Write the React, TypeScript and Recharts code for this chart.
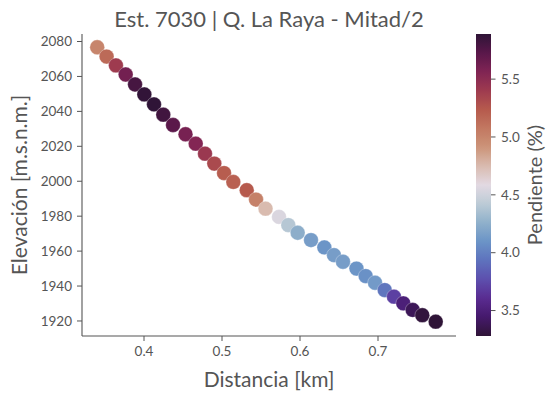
import React from "react";
import { ScatterChart, Scatter, XAxis, YAxis, Cell } from "recharts";

// Distance along the channel [km]
const distancia = [
  0.340, 0.352, 0.364, 0.3765, 0.3885, 0.4004, 0.4128, 0.4247, 0.4372, 0.4532,
  0.4663, 0.4782, 0.4901, 0.5026, 0.5145, 0.5317, 0.5436, 0.5558, 0.5731, 0.585,
  0.597, 0.6141, 0.6312, 0.6436, 0.6551, 0.6724, 0.6842, 0.6962, 0.7086, 0.7205,
  0.7324, 0.7445, 0.7568, 0.774,
];
// Elevation [m.s.n.m.]
const elevacion = [
  2076.7, 2071.4, 2066.3, 2061.1, 2055.4, 2049.7, 2044.0, 2038.1, 2032.2, 2026.9,
  2021.5, 2015.8, 2010.1, 2004.7, 1999.6, 1994.9, 1989.5, 1984.3, 1979.6, 1974.9,
  1970.5, 1966.3, 1962.1, 1957.7, 1953.9, 1950.0, 1945.7, 1941.9, 1937.7, 1933.9,
  1930.1, 1926.3, 1923.3, 1919.6,
];
// Slope [%]
const pendiente = [
  5.0, 5.15, 5.4, 5.62, 5.8, 5.88, 5.89, 5.82, 5.72, 5.6,
  5.55, 5.42, 5.32, 5.22, 5.2, 5.24, 5.02, 4.75, 4.55, 4.4,
  4.25, 4.15, 4.1, 4.15, 4.15, 4.1, 4.08, 4.13, 3.95, 3.7,
  3.5, 3.38, 3.3, 3.28,
];

const xTicks = [0.4, 0.5, 0.6, 0.7];
const yTicks = [1920, 1940, 1960, 1980, 2000, 2020, 2040, 2060, 2080];
const cbarTicks = [3.5, 4.0, 4.5, 5.0, 5.5];

const title = "Est. 7030 | Q. La Raya - Mitad/2";
const xLabel = "Distancia [km]";
const yLabel = "Elevación [m.s.n.m.]";
const cLabel = "Pendiente (%)";

// approximate twilight_shifted colormap
const cmapStops: [number, string][] = [
  [0.0, "#2f1437"],
  [0.0625, "#45196b"],
  [0.125, "#5a2c91"],
  [0.1875, "#5d4fae"],
  [0.25, "#5e72bd"],
  [0.3125, "#6b94c7"],
  [0.375, "#8fb0ca"],
  [0.4375, "#bccbd6"],
  [0.5, "#e2d9e2"],
  [0.5625, "#d9bbb0"],
  [0.625, "#cc9479"],
  [0.6875, "#c27861"],
  [0.75, "#b65a4d"],
  [0.8125, "#9e3b4f"],
  [0.875, "#802454"],
  [0.9375, "#59174a"],
  [1.0, "#2f1437"],
];

function hexToRgb(h: string) {
  return [parseInt(h.slice(1, 3), 16), parseInt(h.slice(3, 5), 16), parseInt(h.slice(5, 7), 16)];
}
function cmap(t: number) {
  t = Math.max(0, Math.min(1, t));
  for (let i = 0; i < cmapStops.length - 1; i++) {
    const [t0, c0] = cmapStops[i];
    const [t1, c1] = cmapStops[i + 1];
    if (t <= t1) {
      const f = (t - t0) / (t1 - t0);
      const a = hexToRgb(c0);
      const b = hexToRgb(c1);
      const r = a.map((v, k) => Math.round(v + (b[k] - v) * f));
      return `rgb(${r[0]},${r[1]},${r[2]})`;
    }
  }
  return cmapStops[cmapStops.length - 1][1];
}

const vmin = Math.min(...pendiente);
const vmax = Math.max(...pendiente);

const data = distancia.map((x, i) => ({
  x,
  y: elevacion[i],
  p: pendiente[i],
  color: cmap((pendiente[i] - vmin) / (vmax - vmin)),
}));

const W = 557;
const H = 399;
const plotTop = 34;
const plotBottom = 336;
const plotLeft = 82;
const plotRight = 456;
const textColor = "#555555";
const fontFamily = "Lato, 'Open Sans', sans-serif";

const cbX = 476;
const cbW = 15;

function Colorbar() {
  const h = plotBottom - plotTop;
  const yOf = (v: number) => plotBottom - ((v - vmin) / (vmax - vmin)) * h;
  const n = 60;
  return (
    <g>
      <defs>
        <linearGradient id="cbgrad" x1="0" y1="1" x2="0" y2="0">
          {Array.from({ length: n + 1 }, (_, i) => (
            <stop key={i} offset={i / n} stopColor={cmap(i / n)} />
          ))}
        </linearGradient>
      </defs>
      <rect x={cbX} y={plotTop} width={cbW} height={h} fill="url(#cbgrad)" />
      {cbarTicks.map((v) => (
        <g key={v}>
          <line x1={cbX + cbW} x2={cbX + cbW + 4.5} y1={yOf(v)} y2={yOf(v)} stroke={textColor} strokeWidth={1} />
          <text x={cbX + cbW + 10} y={yOf(v)} dy="0.35em" fontSize={13.5} fill={textColor} fontFamily={fontFamily}>
            {v.toFixed(1)}
          </text>
        </g>
      ))}
      <text
        transform={`translate(542, ${(plotTop + plotBottom) / 2}) rotate(-90)`}
        textAnchor="middle"
        fontSize={20}
        fill={textColor}
        fontFamily={fontFamily}
      >
        {cLabel}
      </text>
    </g>
  );
}

export default function App() {
  return (
    <div style={{ position: "absolute", left: 0, top: 0, width: W, height: H, background: "#fff" }}>
      <ScatterChart
        width={W}
        height={H}
        margin={{ top: plotTop, right: W - plotRight, bottom: 0, left: 0 }}
      >
        <XAxis
          type="number"
          dataKey="x"
          domain={[0.3205, 0.8]}
          allowDataOverflow
          ticks={xTicks}
          tickFormatter={(v: number) => v.toFixed(1)}
          height={H - plotBottom}
          tickSize={5}
          tickMargin={5}
          axisLine={{ stroke: textColor, strokeWidth: 1.1 }}
          tickLine={{ stroke: textColor }}
          tick={{ fill: textColor, fontSize: 13.5, fontFamily }}
        />
        <YAxis
          type="number"
          dataKey="y"
          domain={[1911.4, 2084.3]}
          allowDataOverflow
          ticks={yTicks}
          width={plotLeft}
          tickSize={5}
          tickMargin={5}
          axisLine={{ stroke: textColor, strokeWidth: 1.1 }}
          tickLine={{ stroke: textColor }}
          tick={{ fill: textColor, fontSize: 13.5, fontFamily }}
        />
        <Scatter
          data={data}
          isAnimationActive={false}
          shape={(props: any) => (
            <circle
              cx={props.cx}
              cy={props.cy}
              r={7.4}
              fill={props.payload.color}
              stroke="#ffffff"
              strokeOpacity={0.5}
              strokeWidth={0.6}
            />
          )}
        >
          {data.map((d, i) => (
            <Cell key={i} fill={d.color} />
          ))}
        </Scatter>
      </ScatterChart>
      <svg
        width={W}
        height={H}
        style={{ position: "absolute", left: 0, top: 0, pointerEvents: "none" }}
      >
        <text
          x={(plotLeft + plotRight) / 2}
          y={27}
          textAnchor="middle"
          fontSize={22}
          fill={textColor}
          fontFamily={fontFamily}
        >
          {title}
        </text>
        <text
          x={(plotLeft + plotRight) / 2}
          y={387}
          textAnchor="middle"
          fontSize={21}
          fill={textColor}
          fontFamily={fontFamily}
        >
          {xLabel}
        </text>
        <text
          transform={`translate(26.5, ${(plotTop + plotBottom) / 2}) rotate(-90)`}
          textAnchor="middle"
          fontSize={21}
          fill={textColor}
          fontFamily={fontFamily}
        >
          {yLabel}
        </text>
        <Colorbar />
      </svg>
    </div>
  );
}
